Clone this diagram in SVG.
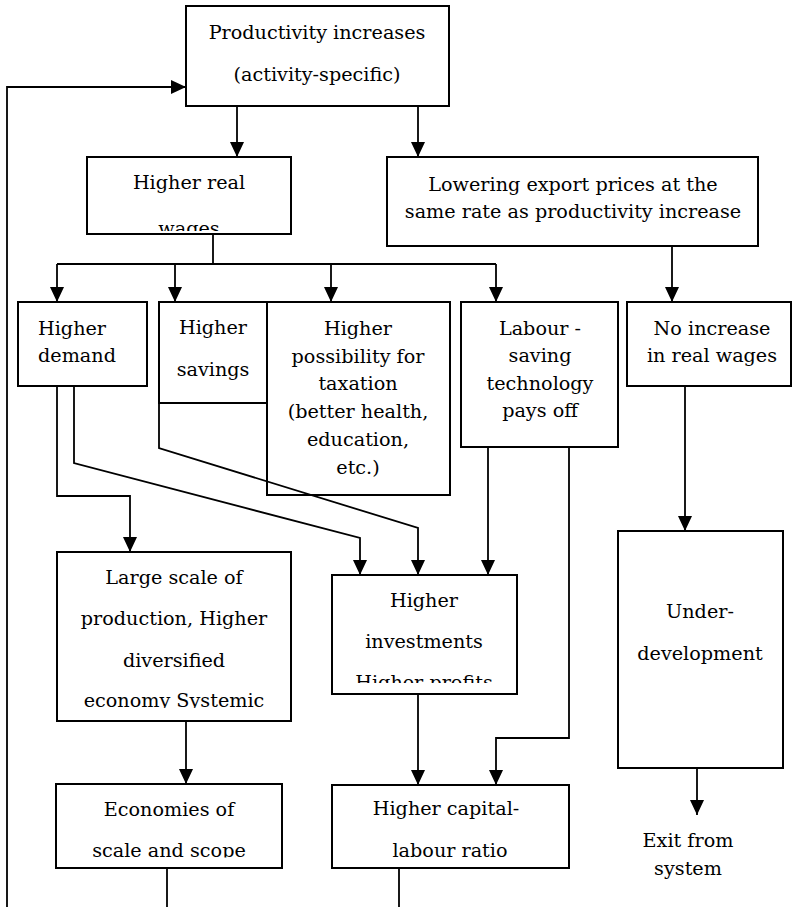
<svg xmlns="http://www.w3.org/2000/svg" width="792" height="907" viewBox="0 0 792 907">
<style>
  .box { fill: #ffffff; stroke: #000000; stroke-width: 2; }
  text { font-family: 'DejaVu Serif', 'Liberation Serif', serif; font-size: 19.2px; fill: #000000; text-anchor: middle; }
  text.tl { text-anchor: start; }
  .c { fill: none; stroke: #000000; stroke-width: 1.8; }
</style>
<defs>
  <marker id="ah" markerUnits="userSpaceOnUse" markerWidth="15" markerHeight="14" viewBox="0 0 15 14" refX="15" refY="7" orient="auto">
    <path d="M0,0 L15,7 L0,14 Z" fill="#000000"/>
  </marker>
  <clipPath id="cpWages"><rect x="87" y="157" width="204" height="74"/></clipPath>
  <clipPath id="cpInv"><rect x="332" y="575" width="185" height="108"/></clipPath>
  <clipPath id="cpLarge"><rect x="57" y="552" width="234" height="156"/></clipPath>
  <clipPath id="cpEcon"><rect x="56" y="784" width="226" height="73.5"/></clipPath>
</defs>

<g id="n-productivity">
  <rect class="box" x="186" y="6" width="263" height="100"/>
  <text x="317" y="39">Productivity increases</text>
  <text x="317" y="81">(activity-specific)</text>
</g>
<g id="n-wages">
  <rect class="box" x="87" y="157" width="204" height="77"/>
  <g clip-path="url(#cpWages)">
    <text x="189" y="189">Higher real</text>
    <text x="189" y="235">wages</text>
  </g>
</g>
<g id="n-lowering">
  <rect class="box" x="387" y="157" width="371" height="89"/>
  <text x="573" y="191">Lowering export prices at the</text>
  <text x="573" y="218">same rate as productivity increase</text>
</g>
<g id="n-demand">
  <rect class="box" x="18" y="302" width="129" height="84"/>
  <text class="tl" x="38" y="335">Higher</text>
  <text class="tl" x="38" y="362">demand</text>
</g>
<g id="n-savings">
  <rect class="box" x="159" y="302" width="108" height="101"/>
  <text x="213" y="334">Higher</text>
  <text x="213" y="376">savings</text>
</g>
<g id="n-taxation">
  <rect class="box" x="267" y="302" width="183" height="193"/>
  <text x="358" y="335">Higher</text>
  <text x="358" y="363">possibility for</text>
  <text x="358" y="390">taxation</text>
  <text x="358" y="418">(better health,</text>
  <text x="358" y="446">education,</text>
  <text x="358" y="474">etc.)</text>
</g>
<g id="n-labour">
  <rect class="box" x="461" y="302" width="157" height="145"/>
  <text x="540" y="335">Labour -</text>
  <text x="540" y="362">saving</text>
  <text x="540" y="390">technology</text>
  <text x="540" y="417">pays off</text>
</g>
<g id="n-noincrease">
  <rect class="box" x="627" y="302" width="164" height="84"/>
  <text x="712" y="335">No increase</text>
  <text x="712" y="362">in real wages</text>
</g>
<g id="n-large">
  <rect class="box" x="57" y="552" width="234" height="169"/>
  <g clip-path="url(#cpLarge)">
    <text x="174" y="584">Large scale of</text>
    <text x="174" y="625">production, Higher</text>
    <text x="174" y="667">diversified</text>
    <text x="174" y="707">economy Systemic</text>
  </g>
</g>
<g id="n-investments">
  <rect class="box" x="332" y="575" width="185" height="119"/>
  <g clip-path="url(#cpInv)">
    <text x="424" y="607">Higher</text>
    <text x="424" y="648">investments</text>
    <text x="424" y="689">Higher profits</text>
  </g>
</g>
<g id="n-under">
  <rect class="box" x="618" y="531" width="165" height="237"/>
  <text x="700" y="618">Under-</text>
  <text x="700" y="660">development</text>
</g>
<g id="n-economies">
  <rect class="box" x="56" y="784" width="226" height="84"/>
  <g clip-path="url(#cpEcon)">
    <text x="169" y="816">Economies of</text>
    <text x="169" y="857">scale and scope</text>
  </g>
</g>
<g id="n-capital">
  <rect class="box" x="332" y="785" width="237" height="83"/>
  <text x="446" y="815">Higher capital-</text>
  <text x="450" y="857">labour ratio</text>
</g>
<g id="n-exit">
  <text x="688" y="847">Exit from</text>
  <text x="688" y="875">system</text>
</g>

<g id="connectors">
  <path class="c" d="M7,907 V87 H186" marker-end="url(#ah)"/>
  <path class="c" d="M237,106 V157" marker-end="url(#ah)"/>
  <path class="c" d="M418,106 V157" marker-end="url(#ah)"/>
  <path class="c" d="M213,234 V264"/>
  <path class="c" d="M57,264 H496"/>
  <path class="c" d="M57,264 V302" marker-end="url(#ah)"/>
  <path class="c" d="M175,264 V302" marker-end="url(#ah)"/>
  <path class="c" d="M331,264 V302" marker-end="url(#ah)"/>
  <path class="c" d="M496,264 V302" marker-end="url(#ah)"/>
  <path class="c" d="M672,246 V302" marker-end="url(#ah)"/>
  <path class="c" d="M57,386 V496 H130 V552" marker-end="url(#ah)"/>
  <path class="c" d="M74,386 V463 L360,538 V575" marker-end="url(#ah)"/>
  <path class="c" d="M159,403 V448 L418,528 V575" marker-end="url(#ah)"/>
  <path class="c" d="M488,447 V575" marker-end="url(#ah)"/>
  <path class="c" d="M569,447 V738 H496 V785" marker-end="url(#ah)"/>
  <path class="c" d="M685,386 V531" marker-end="url(#ah)"/>
  <path class="c" d="M697,768 V815" marker-end="url(#ah)"/>
  <path class="c" d="M186,721 V784" marker-end="url(#ah)"/>
  <path class="c" d="M418,694 V785" marker-end="url(#ah)"/>
  <path class="c" d="M167,868 V907"/>
  <path class="c" d="M399,868 V907"/>
</g>
</svg>
